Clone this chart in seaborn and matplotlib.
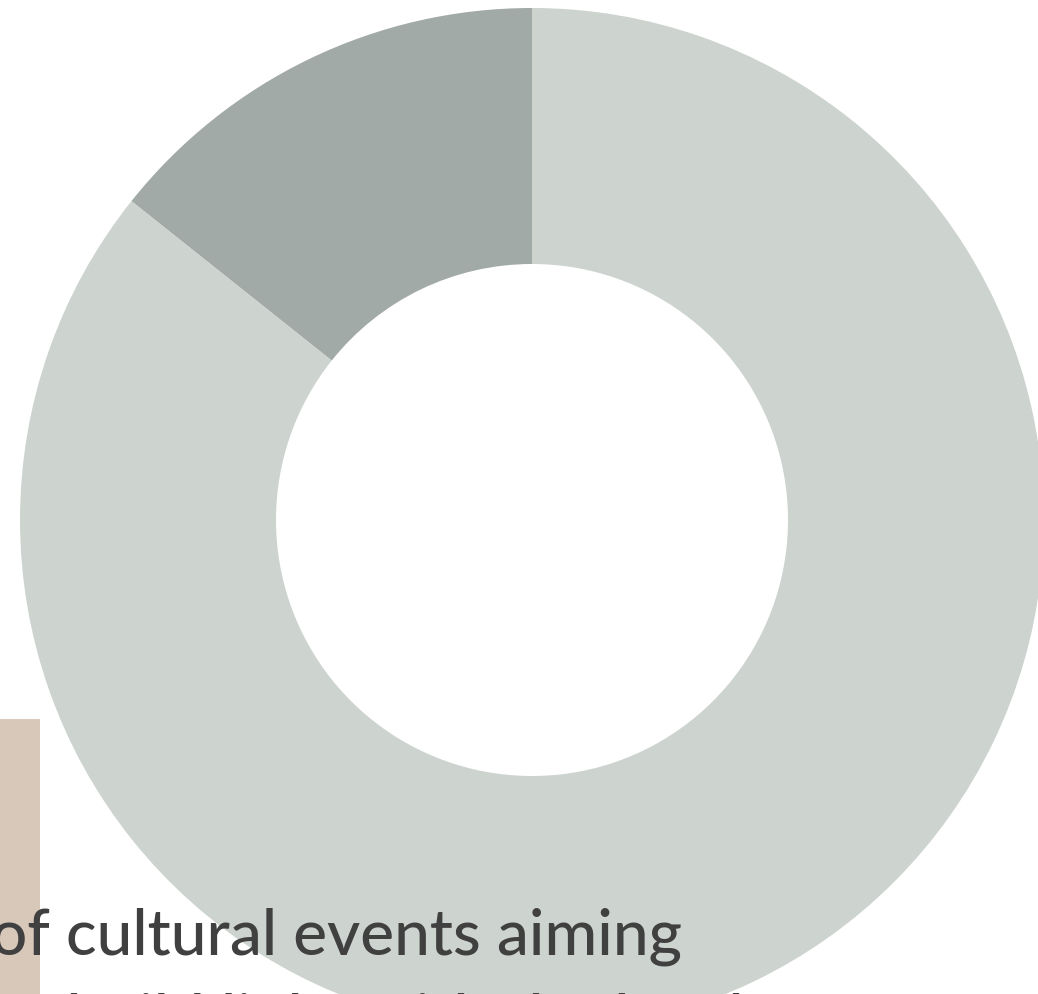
import matplotlib
matplotlib.use("Agg")
import matplotlib.pyplot as plt
import seaborn as sns
from matplotlib.patches import Rectangle

sns.set_theme(style="white")
plt.rcParams['font.family'] = ['Lato', 'DejaVu Sans']

# Share of cultural events
labels = ["Aiming at social inclusion", "Other events"]
shares = [14.3, 85.7]
colors = ["#A2AAA7", "#CDD3CE"]

caption_lines = ["of cultural events aiming", "to build links with the local"]

W, H = 1038, 994
fig = plt.figure(figsize=(W / 100, H / 100), dpi=100)
ax = fig.add_axes([0, 0, 1, 1])

ax.pie(shares, colors=colors, startangle=90, counterclock=True,
       center=(532, 474), radius=512, frame=True,
       wedgeprops=dict(width=256, linewidth=0))
ax.set_xlim(0, W)
ax.set_ylim(0, H)
ax.set_aspect("equal")
ax.axis("off")

# beige accent bar at the lower left
ax.add_patch(Rectangle((-10, -20), 50, 295, facecolor="#D8C8BA",
                       edgecolor="none", zorder=3))

for i, line in enumerate(caption_lines):
    ax.text(-9, 39 - i * 84, line, fontsize=46, fontweight="medium",
            color="#404040", ha="left", va="baseline", zorder=4)

fig.savefig("out.png", dpi=100)
